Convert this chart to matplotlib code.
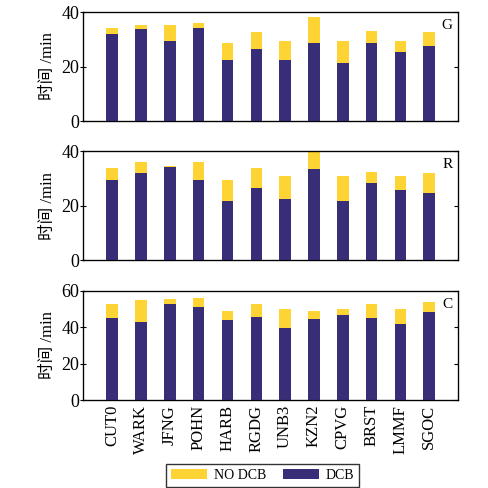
import matplotlib
matplotlib.use('Agg')
import matplotlib.pyplot as plt
import numpy as np

plt.rcParams['font.family'] = ['Liberation Serif', 'Noto Sans CJK SC']
plt.rcParams['font.size'] = 11

stations = ['CUT0', 'WARK', 'JFNG', 'POHN', 'HARB', 'RGDG',
            'UNB3', 'KZN2', 'CPVG', 'BRST', 'LMMF', 'SGOC']

# DCB and NO DCB (total) times per system, minutes
g_dcb = [31.8, 33.9, 29.2, 34.1, 22.4, 26.3, 22.4, 28.5, 21.4, 28.5, 25.2, 27.6]
g_nodcb = [34.0, 35.1, 35.2, 35.8, 28.5, 32.5, 29.2, 38.3, 29.2, 33.1, 29.2, 32.8]

r_dcb = [29.5, 32.0, 34.2, 29.5, 21.6, 26.7, 22.5, 33.6, 21.8, 28.4, 25.7, 24.6]
r_nodcb = [33.7, 35.9, 34.5, 35.9, 29.3, 33.7, 30.8, 40.5, 30.8, 32.5, 30.8, 32.1]

c_dcb = [45.1, 43.1, 52.8, 51.0, 44.2, 45.9, 39.8, 44.6, 47.0, 45.1, 42.0, 48.4]
c_nodcb = [52.7, 55.0, 55.6, 56.3, 49.0, 53.0, 50.1, 49.0, 50.3, 53.0, 50.1, 53.9]

panels = [('G', g_dcb, g_nodcb, [0, 20, 40], 40),
          ('R', r_dcb, r_nodcb, [0, 20, 40], 40),
          ('C', c_dcb, c_nodcb, [0, 20, 40, 60], 60)]

yellow = '#FDD434'
navy = '#382E78'

fig = plt.figure(figsize=(4.88, 4.88), dpi=100)
bottoms = [0.752, 0.4666, 0.1803]
x = np.arange(len(stations))

for (name, dcb, nodcb, yt, ymax), b in zip(panels, bottoms):
    ax = fig.add_axes([0.1707, b, 0.768, 0.2234])
    ax.bar(x, nodcb, width=0.4, color=yellow, label='NO DCB', zorder=2)
    ax.bar(x, dcb, width=0.4, color=navy, label='DCB', zorder=3)
    ax.set_xlim(-1, 12)
    ax.set_ylim(0, ymax)
    ax.set_yticks(yt)
    ax.tick_params(axis='y', direction='inout', length=4, labelsize=13, pad=1)
    ax.tick_params(axis='x', length=0)
    ax.set_ylabel('时间 /min', fontsize=12, labelpad=4)
    ax.text(0.985, 0.88, name, transform=ax.transAxes, ha='right', va='center', fontsize=11)
    for s in ax.spines.values():
        s.set_linewidth(0.9)
    # inward ticks on the right side only
    ax2 = ax.twinx()
    ax2.set_ylim(0, ymax)
    ax2.set_yticks(yt)
    ax2.tick_params(axis='y', direction='in', length=3, labelright=False)
    if name == 'C':
        ax.set_xticks(x)
        ax.set_xticklabels(stations, rotation=90, fontsize=12)
        handles, labels = ax.get_legend_handles_labels()
    else:
        ax.set_xticks([])

fig.legend(handles, labels, loc='center', bbox_to_anchor=(0.538, 0.0256), ncol=2,
           fontsize=10, frameon=True, fancybox=False, edgecolor='black',
           handlelength=2.6, handleheight=0.7, handletextpad=0.5,
           columnspacing=1.2, borderpad=0.35, borderaxespad=0)

plt.savefig('out.png', dpi=100)
